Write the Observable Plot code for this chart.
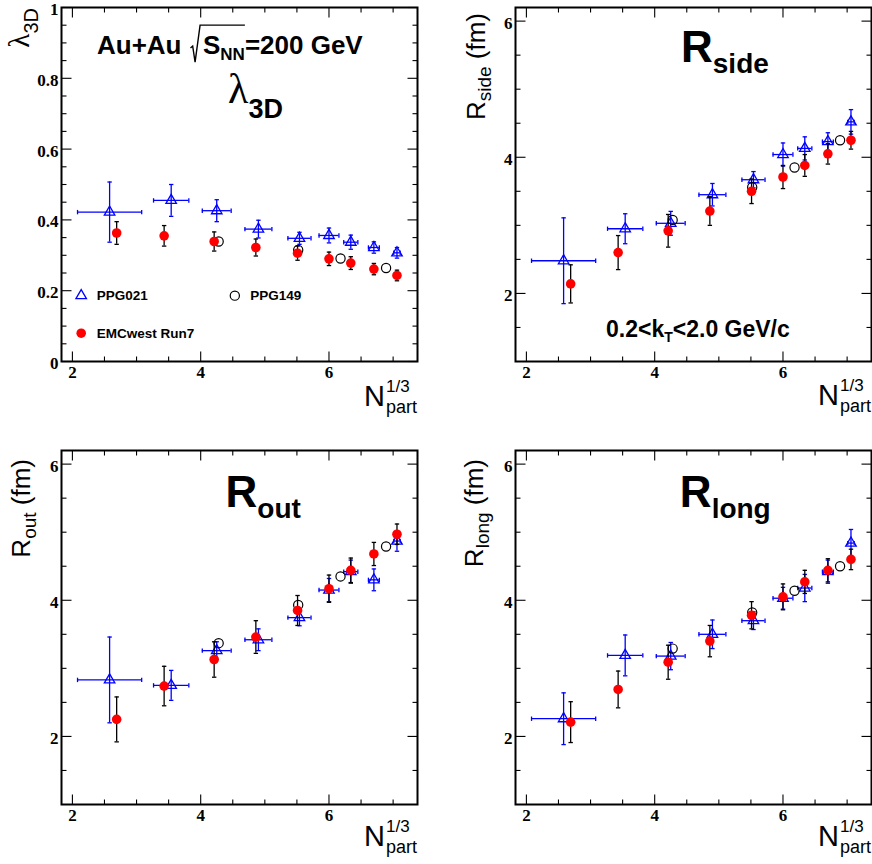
<!DOCTYPE html>
<html>
<head>
<meta charset="utf-8">
<script src="https://cdn.jsdelivr.net/npm/d3@7"></script>
<script src="https://cdn.jsdelivr.net/npm/@observablehq/plot@0.6"></script>
<style>
html,body{margin:0;padding:0;background:#fff;}
#wrap{position:relative;width:872px;height:864px;overflow:hidden;background:#fff;}
.panel{position:absolute;width:436px;height:432px;}
.panel svg{display:block;max-width:none !important;}
</style>
</head>
<body>
<div id="wrap"></div>
<script>
// ---------------- data ----------------
const nPartPPG021    = [2.58, 3.54, 4.25, 4.90, 5.54, 6.00, 6.34, 6.70, 7.06];
const nPartErrPPG021 = [0.50, 0.275, 0.225, 0.21, 0.18, 0.155, 0.11, 0.085, 0.05];
const nPartEMC       = [2.69, 3.43, 4.21, 4.86, 5.51, 6.00, 6.34, 6.70, 7.06];
const nPartPPG149    = [4.28, 5.52, 6.18, 6.89];

const lambdaPPG021    = [0.422, 0.455, 0.426, 0.374, 0.348, 0.356, 0.337, 0.322, 0.307];
const lambdaErrPPG021 = [0.085, 0.045, 0.031, 0.025, 0.017, 0.021, 0.020, 0.016, 0.015];
const lambdaEMC       = [0.363, 0.355, 0.339, 0.322, 0.306, 0.290, 0.278, 0.261, 0.243];
const lambdaErrEMC    = [0.032, 0.029, 0.027, 0.024, 0.020, 0.019, 0.018, 0.016, 0.015];
const lambdaPPG149    = [0.339, 0.315, 0.291, 0.264];

const rSidePPG021    = [2.48, 2.95, 3.03, 3.45, 3.67, 4.04, 4.13, 4.23, 4.52];
const rSideErrPPG021 = [0.63, 0.22, 0.175, 0.165, 0.12, 0.17, 0.17, 0.13, 0.18];
const rSideEMC       = [2.14, 2.60, 2.92, 3.21, 3.50, 3.71, 3.88, 4.05, 4.25];
const rSideErrEMC    = [0.28, 0.25, 0.24, 0.21, 0.18, 0.17, 0.16, 0.15, 0.13];
const rSidePPG149    = [3.08, 3.56, 3.85, 4.25];

const rOutPPG021    = [2.83, 2.75, 3.26, 3.42, 3.745, 4.15, 4.42, 4.30, 4.87];
const rOutErrPPG021 = [0.63, 0.22, 0.13, 0.16, 0.12, 0.17, 0.17, 0.16, 0.15];
const rOutEMC       = [2.25, 2.74, 3.13, 3.46, 3.85, 4.17, 4.44, 4.68, 4.97];
const rOutErrEMC    = [0.33, 0.29, 0.26, 0.24, 0.22, 0.20, 0.18, 0.17, 0.15];
const rOutPPG149    = [3.37, 3.93, 4.35, 4.79];

const rLongPPG021    = [2.26, 3.19, 3.18, 3.50, 3.70, 4.03, 4.18, 4.42, 4.84];
const rLongErrPPG021 = [0.38, 0.30, 0.20, 0.21, 0.13, 0.16, 0.20, 0.17, 0.20];
const rLongEMC       = [2.21, 2.69, 3.09, 3.40, 3.78, 4.05, 4.27, 4.44, 4.60];
const rLongErrEMC    = [0.30, 0.27, 0.25, 0.23, 0.20, 0.19, 0.17, 0.17, 0.15];
const rLongPPG149    = [3.29, 3.82, 4.14, 4.50];

const legendLabels = ["PPG021", "PPG149", "EMCwest Run7"];

const xMajorTicks = [2, 4, 6];
const xMinorTicks = [2.5, 3, 3.5, 4.5, 5, 5.5, 6.5, 7];
const lambdaMajorTicks = [0, 0.2, 0.4, 0.6, 0.8, 1];
const lambdaMinorTicks = [0.05, 0.1, 0.15, 0.25, 0.3, 0.35, 0.45, 0.5, 0.55, 0.65, 0.7, 0.75, 0.85, 0.9, 0.95];
const radiusMajorTicks = [2, 4, 6];
const radiusMinorTicks = [1.5, 2.5, 3, 3.5, 4.5, 5, 5.5];

// ---------------- styling / layout ----------------
const BLUE = "#0000ff", RED = "#ff0000";
const SANS = "'Liberation Sans', Arial, Helvetica, sans-serif";
const SERIF = "'Liberation Serif', 'Times New Roman', serif";
const X_DOMAIN = [1.83, 7.38];

const seg = (x1, y1, x2, y2) => ({draw(ctx) { ctx.moveTo(x1, y1); ctx.lineTo(x2, y2); }});

function rows(xs, ys, es, xes) {
  return xs.map((x, i) => ({x, y: ys[i], e: es ? es[i] : 0, xe: xes ? xes[i] : 0}));
}

const panelSpecs = [
  {key: "lambda", left: 0, top: 0, margins: [7, 19, 71, 61], yDomain: [0, 1],
   yMajor: lambdaMajorTicks, yMinor: lambdaMinorTicks,
   p021: lambdaPPG021, p021e: lambdaErrPPG021, emc: lambdaEMC, emce: lambdaErrEMC, p149: lambdaPPG149,
   yTitle: {x: 29, y: 8, parts: [{t: "\u03bb", size: 29, family: SERIF}, {t: "3D", size: 20, shift: 9}]},
   xTitleDy: 45, legend: true},
  {key: "side", left: 436, top: 0, margins: [7, 1, 71, 79], yDomain: [1, 6.2],
   yMajor: radiusMajorTicks, yMinor: radiusMinorTicks,
   p021: rSidePPG021, p021e: rSideErrPPG021, emc: rSideEMC, emce: rSideErrEMC, p149: rSidePPG149,
   yTitle: {x: 49, y: 13, parts: [{t: "R", size: 26}, {t: "side", size: 19, shift: 6}, {t: " (fm)", size: 26, shift: 0}]},
   xTitleDy: 44, big: {sub: "side", x: 4.418, y: 5.396}},
  {key: "out", left: 0, top: 432, margins: [18, 19, 60, 61], yDomain: [1, 6.2],
   yMajor: radiusMajorTicks, yMinor: radiusMinorTicks,
   p021: rOutPPG021, p021e: rOutErrPPG021, emc: rOutEMC, emce: rOutErrEMC, p149: rOutPPG149,
   yTitle: {x: 30, y: 27, parts: [{t: "R", size: 26}, {t: "out", size: 19, shift: 6}, {t: " (fm)", size: 26, shift: 0}]},
   xTitleDy: 42, big: {sub: "out", x: 4.395, y: 5.362}},
  {key: "long", left: 436, top: 432, margins: [18, 1, 60, 79], yDomain: [1, 6.2],
   yMajor: radiusMajorTicks, yMinor: radiusMinorTicks,
   p021: rLongPPG021, p021e: rLongErrPPG021, emc: rLongEMC, emce: rLongErrEMC, p149: rLongPPG149,
   yTitle: {x: 47, y: 27, parts: [{t: "R", size: 26}, {t: "long", size: 19, shift: 6}, {t: " (fm)", size: 26, shift: 0}]},
   xTitleDy: 42, big: {sub: "long", x: 4.40, y: 5.362}}
];

function addText(svg, x, y, parts, opts = {}) {
  const t = d3.select(svg).append("text")
    .attr("x", x).attr("y", y)
    .attr("font-family", opts.family || SANS)
    .attr("font-weight", opts.weight || "normal")
    .attr("font-size", opts.size || 20)
    .attr("fill", "black")
    .attr("text-anchor", opts.anchor || "start");
  if (opts.rotate) t.attr("transform", `rotate(${opts.rotate},${x},${y})`);
  let shift = 0;
  for (const p of parts) {
    const s = t.append("tspan").text(p.t);
    if (p.size) s.attr("font-size", p.size);
    if (p.family) s.attr("font-family", p.family);
    if (p.weight) s.attr("font-weight", p.weight);
    const target = p.shift || 0;
    if (target !== shift) { s.attr("dy", target - shift); shift = target; }
  }
  return t;
}

function makePanel(spec) {
  const [mt, mr, mb, ml] = spec.margins;
  const d021 = rows(nPartPPG021, spec.p021, spec.p021e, nPartErrPPG021);
  const dEMC = rows(nPartEMC, spec.emc, spec.emce);
  const d149 = rows(nPartPPG149, spec.p149);
  const tk = {stroke: "black", strokeWidth: 1.1, fill: "none"};
  const tickFont = {fontFamily: SERIF, fontWeight: "bold", fontSize: 17, fill: "black"};
  const marks = [
    // inside ticks on all four sides
    Plot.dot(xMajorTicks, {x: d => d, frameAnchor: "bottom", symbol: seg(0, 0, 0, -10), ...tk}),
    Plot.dot(xMajorTicks, {x: d => d, frameAnchor: "top", symbol: seg(0, 0, 0, 10), ...tk}),
    Plot.dot(xMinorTicks, {x: d => d, frameAnchor: "bottom", symbol: seg(0, 0, 0, -5), ...tk}),
    Plot.dot(xMinorTicks, {x: d => d, frameAnchor: "top", symbol: seg(0, 0, 0, 5), ...tk}),
    Plot.dot(spec.yMajor, {y: d => d, frameAnchor: "left", symbol: seg(0, 0, 10, 0), ...tk}),
    Plot.dot(spec.yMajor, {y: d => d, frameAnchor: "right", symbol: seg(0, 0, -10, 0), ...tk}),
    Plot.dot(spec.yMinor, {y: d => d, frameAnchor: "left", symbol: seg(0, 0, 5, 0), ...tk}),
    Plot.dot(spec.yMinor, {y: d => d, frameAnchor: "right", symbol: seg(0, 0, -5, 0), ...tk}),
    // tick labels (bold serif, ROOT style)
    Plot.text(xMajorTicks, {x: d => d, frameAnchor: "bottom", text: d => String(d), lineAnchor: "top", dy: 4, ...tickFont}),
    Plot.text(spec.yMajor, {y: d => d, frameAnchor: "left", text: d => String(d), textAnchor: "end", dx: -3, dy: 2, ...tickFont}),

    // PPG021: blue open triangles with x and y error bars
    Plot.ruleY(d021, {y: "y", x1: d => d.x - d.xe, x2: d => d.x + d.xe, stroke: BLUE, strokeWidth: 1.3}),
    Plot.ruleX(d021, {x: "x", y1: d => d.y - d.e, y2: d => d.y + d.e, stroke: BLUE, strokeWidth: 1.3}),
    Plot.dot(d021, {x: d => d.x - d.xe, y: "y", symbol: seg(0, -2.2, 0, 2.2), stroke: BLUE, strokeWidth: 1.3, fill: "none"}),
    Plot.dot(d021, {x: d => d.x + d.xe, y: "y", symbol: seg(0, -2.2, 0, 2.2), stroke: BLUE, strokeWidth: 1.3, fill: "none"}),
    Plot.dot(d021, {x: "x", y: d => d.y + d.e, symbol: seg(-2.2, 0, 2.2, 0), stroke: BLUE, strokeWidth: 1.3, fill: "none"}),
    Plot.dot(d021, {x: "x", y: d => d.y - d.e, symbol: seg(-2.2, 0, 2.2, 0), stroke: BLUE, strokeWidth: 1.3, fill: "none"}),
    Plot.dot(d021, {x: "x", y: "y", symbol: "triangle", r: 3.9, stroke: BLUE, strokeWidth: 1.3, fill: "none"}),

    // PPG149: black open circles
    Plot.dot(d149, {x: "x", y: "y", symbol: "circle", r: 4.6, stroke: "black", strokeWidth: 1.2, fill: "none"}),

    // EMCwest Run7: red filled circles with black error bars
    Plot.ruleX(dEMC, {x: "x", y1: d => d.y - d.e, y2: d => d.y + d.e, stroke: "black", strokeWidth: 1.3}),
    Plot.dot(dEMC, {x: "x", y: d => d.y + d.e, symbol: seg(-2.2, 0, 2.2, 0), stroke: "black", strokeWidth: 1.3, fill: "none"}),
    Plot.dot(dEMC, {x: "x", y: d => d.y - d.e, symbol: seg(-2.2, 0, 2.2, 0), stroke: "black", strokeWidth: 1.3, fill: "none"}),
    Plot.dot(dEMC, {x: "x", y: "y", r: 4.8, fill: RED, stroke: "none"})
  ];

  if (spec.legend) {
    const legendRows = [
      {label: legendLabels[0], x: 2.137, y: 0.186, kind: "tri"},
      {label: legendLabels[1], x: 4.532, y: 0.186, kind: "open"},
      {label: legendLabels[2], x: 2.137, y: 0.080, kind: "fill"}
    ];
    marks.push(
      Plot.dot(legendRows.filter(d => d.kind === "tri"), {x: "x", y: "y", symbol: "triangle", r: 3.9, stroke: BLUE, strokeWidth: 1.3, fill: "none"}),
      Plot.dot(legendRows.filter(d => d.kind === "open"), {x: "x", y: "y", r: 4.6, stroke: "black", strokeWidth: 1.2, fill: "none"}),
      Plot.dot(legendRows.filter(d => d.kind === "fill"), {x: "x", y: "y", r: 4.8, fill: RED, stroke: "none"}),
      Plot.text(legendRows, {x: "x", y: "y", text: "label", dx: 15.5, textAnchor: "start",
        fontFamily: SANS, fontWeight: "bold", fontSize: 13.5, fill: "black"})
    );
  }
  marks.push(Plot.frame({stroke: "black", strokeWidth: 2}));

  const plot = Plot.plot({
    width: 436, height: 432,
    marginTop: mt, marginRight: mr, marginBottom: mb, marginLeft: ml,
    x: {domain: X_DOMAIN, axis: null},
    y: {domain: spec.yDomain, axis: null},
    style: `font-family: ${SERIF}; font-weight: bold; font-size: 16px; background: white; color: black;`,
    marks
  });

  const div = document.createElement("div");
  div.className = "panel";
  div.style.left = spec.left + "px";
  div.style.top = spec.top + "px";
  div.appendChild(plot);
  document.getElementById("wrap").appendChild(div);

  const sx = plot.scale("x"), sy = plot.scale("y");
  const frameRight = 436 - mr, frameBottom = 432 - mb;

  // y-axis title (rotated, right-aligned to top)
  addText(plot, spec.yTitle.x, spec.yTitle.y, spec.yTitle.parts, {anchor: "end", rotate: -90, size: 26});

  // x-axis title N_part^{1/3}, aligned to the frame's right edge
  const yb = frameBottom + spec.xTitleDy;
  const tN = addText(plot, 0, yb, [{t: "N"}], {size: 29});
  const tSub = addText(plot, 0, yb + 7, [{t: "part"}], {size: 18});
  const tSup = addText(plot, 0, yb - 14, [{t: "1/3"}], {size: 17});
  const wN = tN.node().getComputedTextLength();
  const wS = Math.max(tSub.node().getComputedTextLength(), tSup.node().getComputedTextLength());
  const xs0 = frameRight - wN - wS - 1;
  tN.attr("x", xs0);
  tSub.attr("x", xs0 + wN + 1);
  tSup.attr("x", xs0 + wN + 1);

  if (spec.key === "lambda") {
    // Au+Au sqrt(s_NN)=200 GeV
    const x0 = sx.apply(2.391), y0 = sy.apply(0.867);
    const t1 = addText(plot, x0, y0, [{t: "Au+Au"}], {size: 26, weight: "bold"});
    const rx = x0 + t1.node().getComputedTextLength() + 9;
    const t2 = addText(plot, rx + 12.5, y0, [{t: "S"}, {t: "NN", size: 17, shift: 6}, {t: "=200 GeV", shift: 0}], {size: 26, weight: "bold"});
    const wSNN = t2.node().getSubStringLength(0, 3);
    d3.select(plot).append("path")
      .attr("d", `M${rx},${y0 - 6} L${rx + 2.2},${y0 - 8} L${rx + 4.6},${y0 + 8} L${rx + 9.6},${y0 - 29} H${rx + 12.5 + wSNN}`)
      .attr("fill", "none").attr("stroke", "black").attr("stroke-width", 1.4);
    // big lambda_3D label
    addText(plot, sx.apply(4.434), sy.apply(0.729),
      [{t: "\u03bb", size: 42, family: SERIF, weight: "normal"}, {t: "3D", size: 27, weight: "bold", shift: 15}], {size: 42});
  }
  if (spec.big) {
    addText(plot, sx.apply(spec.big.x), sy.apply(spec.big.y),
      [{t: "R", size: 44}, {t: spec.big.sub, size: 28, shift: 11}], {size: 44, weight: "bold"});
  }
  if (spec.key === "side") {
    addText(plot, sx.apply(3.249), sy.apply(1.357),
      [{t: "0.2<k"}, {t: "T", size: 14, shift: 5}, {t: "<2.0 GeV/c", shift: 0}], {size: 23, weight: "bold"});
  }
}

panelSpecs.forEach(makePanel);
</script>
</body>
</html>
